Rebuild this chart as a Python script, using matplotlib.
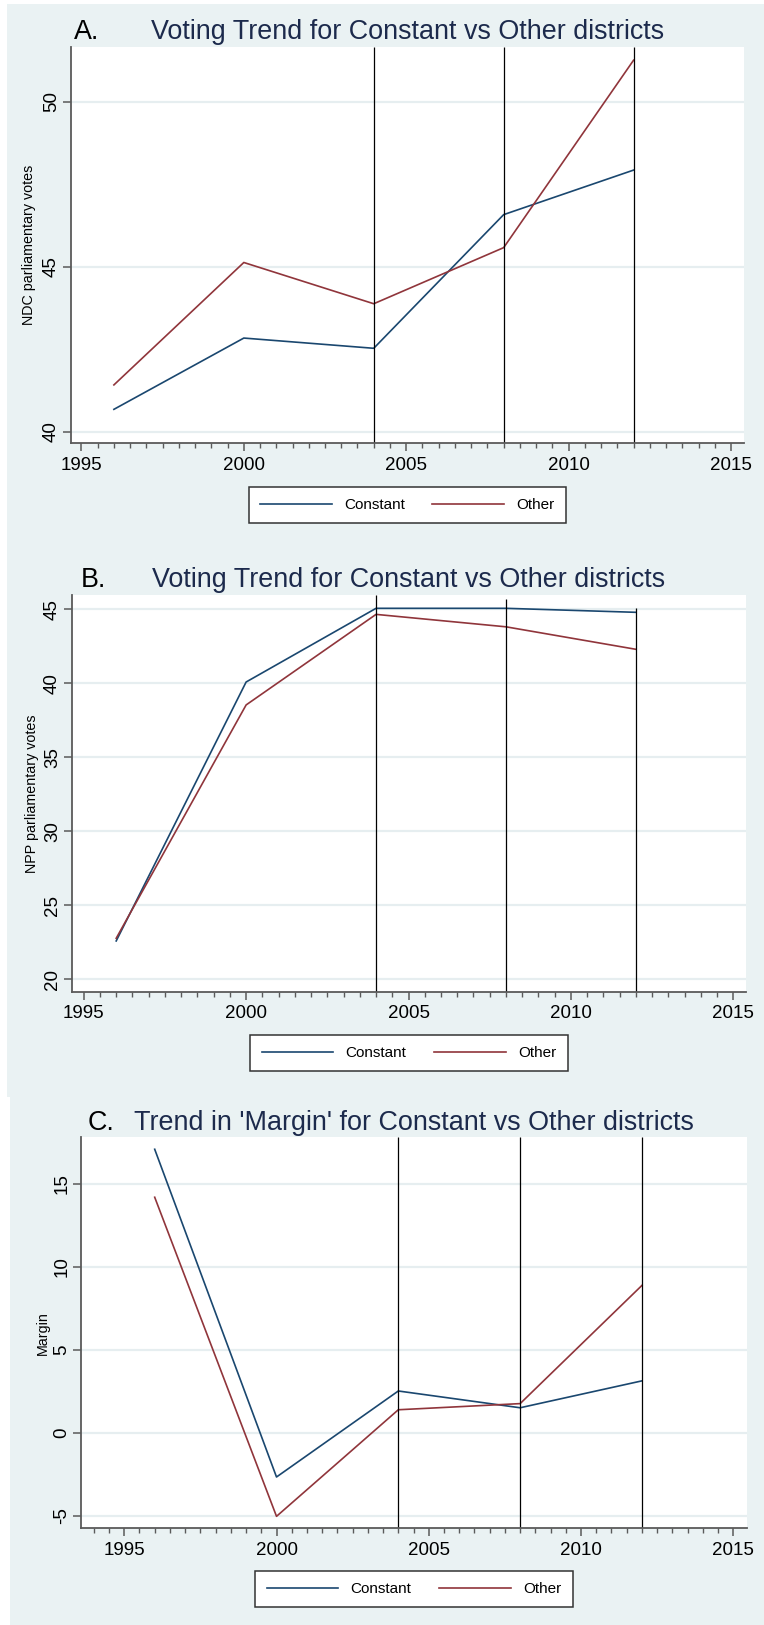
import matplotlib
matplotlib.use("Agg")
import matplotlib.pyplot as plt
from matplotlib.patches import Rectangle
from matplotlib.ticker import MultipleLocator
from matplotlib.lines import Line2D

plt.rcParams['font.family'] = ['Liberation Sans', 'DejaVu Sans']

# ---------------- data ----------------
years = [1996, 2000, 2004, 2008, 2012]
election_lines = [2004, 2008, 2012]

ndc_constant = [40.68, 42.84, 42.53, 46.58, 47.93]
ndc_other = [41.42, 45.13, 43.88, 45.58, 51.26]

npp_constant = [22.59, 40.09, 45.07, 45.07, 44.80]
npp_other = [22.77, 38.54, 44.66, 43.82, 42.30]

margin_constant = [17.09, -2.65, 2.53, 1.52, 3.14]
margin_other = [14.20, -5.02, 1.40, 1.77, 8.89]

series_labels = ["Constant", "Other"]
x_ticks = [1995, 2000, 2005, 2010, 2015]

# ---------------- style ----------------
W, H = 764, 1625
DPI = 100
BG = '#EAF2F3'
GRID = '#E6EEF0'
C_CONST = '#1A476F'
C_OTHER = '#90353B'
TITLE_C = '#1C2A4C'
AXIS_C = '#5A5A5A'

fig = plt.figure(figsize=(W / DPI, H / DPI), dpi=DPI)
fig.patch.set_facecolor('white')


def fx(px):
    return px / W


def fy(py):
    return 1 - py / H


# graph-region backgrounds
fig.patches.append(Rectangle((fx(7), fy(1097)), fx(764 - 7), (1097 - 4) / H,
                             transform=fig.transFigure, facecolor=BG, edgecolor='none', zorder=-10))
fig.patches.append(Rectangle((fx(10), fy(1625)), fx(764 - 10), (1625 - 1097) / H,
                             transform=fig.transFigure, facecolor=BG, edgecolor='none', zorder=-10))

panels = [
    dict(rect=(70.7, 47, 744, 443), xlim=(1994.67, 2015.4), ylim=(39.66, 51.66),
         yticks=[40, 45, 50], ylabel="NDC parliamentary votes",
         cons=ndc_constant, oth=ndc_other, letter="A.", letter_x=74,
         title="Voting Trend for Constant vs Other districts",
         vtops=[None, None, None], ylab_x=29.5, leg_y=505),
    dict(rect=(71.7, 595, 746, 991.7), xlim=(1994.63, 2015.39), ylim=(19.16, 45.97),
         yticks=[20, 25, 30, 35, 40, 45], ylabel="NPP parliamentary votes",
         cons=npp_constant, oth=npp_other, letter="B.", letter_x=81,
         title="Voting Trend for Constant vs Other districts",
         vtops=[None, 45.7, 45.1], ylab_x=32, leg_y=1053),
    dict(rect=(81, 1137.3, 746.7, 1528.3), xlim=(1993.58, 2015.44), ylim=(-5.74, 17.81),
         yticks=[-5, 0, 5, 10, 15], ylabel="Margin",
         cons=margin_constant, oth=margin_other, letter="C.", letter_x=88,
         title="Trend in 'Margin' for Constant vs Other districts",
         vtops=[None, None, None], ylab_x=42.5, leg_y=1589),
]

for p in panels:
    l, t, r, b = p['rect']
    ax = fig.add_axes([fx(l), fy(b), fx(r - l), (b - t) / H])
    ax.set_zorder(1)
    ax.set_facecolor('white')
    ax.set_xlim(*p['xlim'])
    ax.set_ylim(*p['ylim'])
    for s in ['top', 'right']:
        ax.spines[s].set_visible(False)
    for s in ['left', 'bottom']:
        ax.spines[s].set_color(AXIS_C)
        ax.spines[s].set_linewidth(1.3)
        ax.spines[s].set_zorder(5)

    ax.set_yticks(p['yticks'])
    ax.set_yticklabels([str(v) for v in p['yticks']], rotation=90, va='center')
    ax.set_xticks(x_ticks)
    ax.xaxis.set_minor_locator(MultipleLocator(0.5))
    ax.tick_params(axis='both', which='major', length=5.8, width=1.1, color=AXIS_C,
                   labelsize=13.5, labelcolor='black')
    ax.tick_params(axis='x', which='major', pad=4)
    ax.tick_params(axis='y', which='major', pad=2)
    ax.tick_params(axis='x', which='minor', length=3.4, width=1.0, color=AXIS_C)

    ax.yaxis.grid(True, color=GRID, linewidth=1.6)
    ax.set_axisbelow(True)

    ax.plot(years, p['cons'], color=C_CONST, linewidth=1.2, zorder=3, label=series_labels[0])
    ax.plot(years, p['oth'], color=C_OTHER, linewidth=1.2, zorder=3, label=series_labels[1])

    for xv, top in zip(election_lines, p['vtops']):
        ytop = p['ylim'][1] if top is None else top
        ax.vlines(xv, p['ylim'][0], ytop, color='black', linewidth=0.9, zorder=4)

    ax.set_title(p['title'], fontsize=19.4, color=TITLE_C, pad=5.5, loc='center')
    fig.text(fx(p['letter_x']), fy(t - 7.7), p['letter'], fontsize=19.4, color='black',
             ha='left', va='baseline')

    ax.set_ylabel(p['ylabel'], fontsize=10.3, color='black', va='center')
    ax.yaxis.set_label_coords((p['ylab_x'] - l) / (r - l), 0.5)

    handles = [Line2D([], [], color=C_CONST, linewidth=1.2),
               Line2D([], [], color=C_OTHER, linewidth=1.2)]
    leg_frac = (b - p['leg_y']) / (b - t)
    leg = ax.legend(handles, series_labels, loc='center', bbox_to_anchor=(0.5, leg_frac),
                    ncol=2, fontsize=11, frameon=True, fancybox=False, handlelength=4.7,
                    handletextpad=0.8, columnspacing=1.8, borderpad=0.75, borderaxespad=0)
    fr = leg.get_frame()
    fr.set_edgecolor('#333333')
    fr.set_linewidth(1.1)
    fr.set_facecolor('white')
    fr.set_alpha(1)

fig.savefig('out.png', dpi=DPI, facecolor='white')
